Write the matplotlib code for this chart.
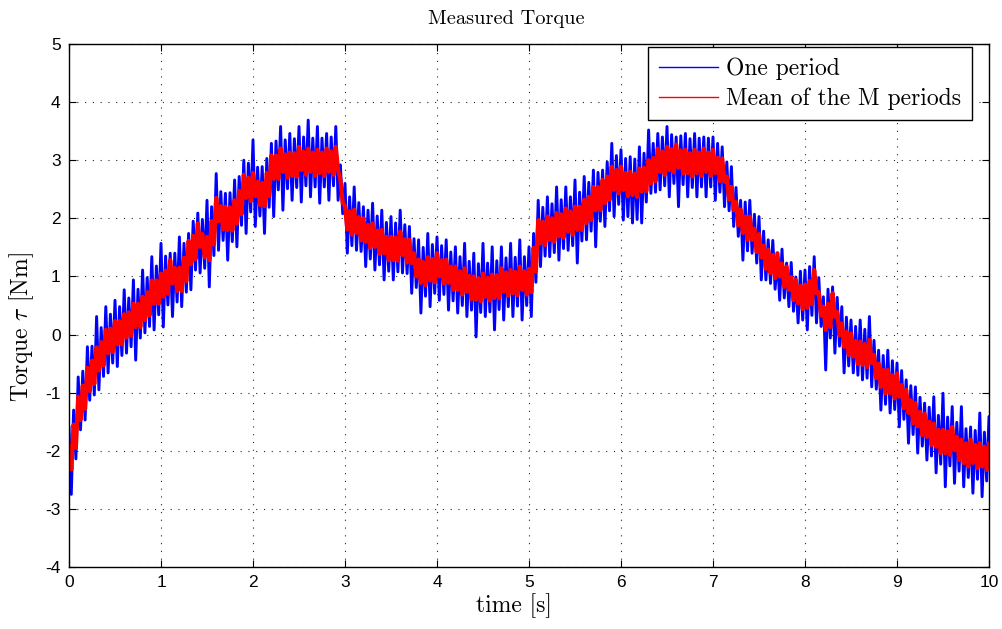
import numpy as np
import matplotlib
matplotlib.use("Agg")
import matplotlib.pyplot as plt
from matplotlib.lines import Line2D

plt.rcParams['mathtext.fontset'] = 'cm'
plt.rcParams['axes.unicode_minus'] = False

# one period (blue): upper / lower swings every 0.05 s
blue_hi = [
    -1.6, -1.30, -0.73, -0.63, -0.21, -0.20, 0.31, 0.12, 0.48, 0.35, 0.59, 0.48, 0.77, 0.63, 0.94, 0.78, 1.11, 0.98, 1.34, 1.18,
    1.57, 1.35, 1.40, 1.40, 1.68, 1.57, 1.74, 1.95, 2.09, 1.98, 2.31, 2.20, 2.77, 2.46, 2.43, 2.44, 2.66, 2.72, 3.00, 2.95,
    3.35, 2.88, 2.89, 3.03, 3.29, 3.33, 3.58, 3.35, 3.46, 3.37, 3.58, 3.40, 3.69, 3.38, 3.58, 3.38, 3.46, 3.40, 3.58, 2.92,
    2.60, 2.37, 2.54, 2.27, 2.20, 2.14, 2.26, 2.04, 2.14, 1.93, 2.03, 1.92, 2.14, 1.89, 1.86, 1.65, 1.63, 1.50, 1.74, 1.55,
    1.68, 1.53, 1.63, 1.42, 1.51, 1.34, 1.57, 1.26, 1.40, 1.22, 1.57, 1.23, 1.51, 1.27, 1.51, 1.32, 1.57, 1.33, 1.63, 1.34,
    1.51, 1.74, 2.31, 2.19, 2.37, 2.25, 2.54, 2.32, 2.54, 2.37, 2.66, 2.45, 2.72, 2.62, 2.83, 2.79, 2.83, 2.97, 3.29, 3.08,
    3.18, 3.03, 3.06, 3.02, 3.23, 3.12, 3.52, 3.29, 3.46, 3.40, 3.58, 3.44, 3.40, 3.42, 3.46, 3.37, 3.46, 3.38, 3.40, 3.38,
    3.40, 3.29, 3.23, 2.97, 2.89, 2.53, 2.31, 2.28, 2.31, 2.07, 2.03, 1.78, 1.63, 1.62, 1.34, 1.47, 1.23, 1.24, 0.99, 1.09,
    1.11, 1.17, 1.34, 0.98, 0.65, 0.78, 0.82, 0.64, 0.48, 0.30, 0.25, 0.14, 0.25, 0.09, 0.31, -0.10, -0.27, -0.36, -0.27, -0.45,
    -0.49, -0.62, -0.78, -0.88, -0.90, -1.08, -1.18, -1.25, -1.07, -1.39, -1.01, -1.42, -1.24, -1.51, -1.24, -1.62, -1.59, -1.65, -1.35, -1.68,
    -1.41]
blue_lo = [
    -2.75, -2.14, -1.64, -1.47, -1.13, -1.04, -0.95, -0.72, -0.66, -0.49, -0.55, -0.36, -0.32, -0.21, -0.44, -0.06, 0.03, 0.14, 0.08, 0.34,
    0.13, 0.51, 0.31, 0.56, 0.48, 0.73, 0.77, 1.11, 1.06, 1.14, 0.82, 1.36, 1.45, 1.62, 1.28, 1.60, 1.51, 1.88, 1.74, 2.11,
    1.86, 2.04, 1.74, 2.19, 2.03, 2.49, 2.14, 2.51, 2.31, 2.53, 2.28, 2.56, 2.37, 2.54, 2.26, 2.54, 2.31, 2.56, 2.31, 2.08,
    1.40, 1.53, 1.45, 1.43, 1.17, 1.30, 1.11, 1.20, 0.94, 1.09, 0.94, 1.08, 1.06, 1.05, 0.71, 0.81, 0.37, 0.66, 0.48, 0.71,
    0.59, 0.69, 0.42, 0.58, 0.37, 0.50, 0.31, 0.42, -0.04, 0.38, 0.31, 0.39, 0.08, 0.43, 0.25, 0.48, 0.31, 0.49, 0.25, 0.50,
    0.31, 0.90, 1.17, 1.35, 1.34, 1.41, 1.28, 1.48, 1.45, 1.53, 1.23, 1.61, 1.63, 1.78, 1.51, 1.95, 1.86, 2.13, 2.03, 2.24,
    1.97, 2.03, 1.92, 1.98, 1.92, 2.28, 2.43, 2.45, 2.49, 2.56, 2.37, 2.60, 2.20, 2.58, 2.37, 2.53, 2.37, 2.54, 2.37, 2.54,
    2.31, 2.45, 2.20, 2.13, 1.86, 1.69, 1.28, 1.44, 1.40, 1.23, 0.94, 0.94, 0.88, 0.78, 0.59, 0.63, 0.48, 0.40, 0.20, 0.25,
    0.08, 0.33, 0.20, 0.14, -0.61, -0.06, -0.32, -0.20, -0.66, -0.54, -0.66, -0.70, -0.78, -0.75, -0.90, -0.94, -1.30, -1.20, -1.35, -1.29,
    -1.59, -1.46, -1.87, -1.72, -2.04, -1.92, -2.16, -2.09, -2.38, -2.23, -2.62, -2.26, -2.56, -2.35, -2.62, -2.46, -2.73, -2.49, -2.79, -2.52,
    -2.73]

# mean of the M periods (red)
red_hi = [
    -1.92, -1.55, -1.07, -0.88, -0.57, -0.45, -0.22, -0.13, 0.08, 0.10, 0.23, 0.23, 0.35, 0.38, 0.53, 0.53, 0.65, 0.73, 0.93, 0.93,
    1.05, 1.10, 1.28, 1.15, 1.15, 1.32, 1.61, 1.70, 1.91, 1.73, 1.68, 1.95, 2.35, 2.21, 2.20, 2.19, 2.31, 2.47, 2.75, 2.70,
    2.78, 2.63, 2.61, 2.78, 3.08, 3.08, 3.20, 3.10, 3.13, 3.12, 3.23, 3.15, 3.20, 3.13, 3.18, 3.13, 3.20, 3.15, 3.23, 2.67,
    2.21, 2.12, 2.15, 2.02, 2.00, 1.89, 1.91, 1.79, 1.80, 1.68, 1.68, 1.67, 1.77, 1.64, 1.63, 1.40, 1.29, 1.25, 1.33, 1.30,
    1.40, 1.28, 1.29, 1.17, 1.17, 1.09, 1.14, 1.01, 1.00, 0.97, 1.05, 0.98, 1.03, 1.02, 1.14, 1.07, 1.11, 1.08, 1.17, 1.09,
    1.13, 1.49, 1.97, 1.94, 2.03, 2.00, 2.09, 2.07, 2.17, 2.12, 2.20, 2.20, 2.32, 2.37, 2.54, 2.54, 2.66, 2.72, 2.89, 2.83,
    2.89, 2.78, 2.80, 2.77, 2.86, 2.87, 3.00, 3.04, 3.20, 3.15, 3.23, 3.19, 3.27, 3.17, 3.18, 3.12, 3.18, 3.13, 3.20, 3.13,
    3.18, 3.04, 3.03, 2.72, 2.54, 2.28, 2.15, 2.03, 2.03, 1.82, 1.73, 1.53, 1.46, 1.37, 1.40, 1.22, 1.17, 0.99, 0.94, 0.84,
    0.86, 0.92, 1.11, 0.73, 0.48, 0.53, 0.71, 0.39, 0.19, 0.05, 0.02, -0.11, -0.12, -0.16, -0.09, -0.35, -0.50, -0.61, -0.61, -0.70,
    -0.67, -0.87, -0.95, -1.13, -1.18, -1.33, -1.36, -1.50, -1.53, -1.64, -1.64, -1.67, -1.59, -1.76, -1.81, -1.87, -1.81, -1.90, -1.87, -1.93,
    -1.87]
red_lo = [
    -2.32, -1.95, -1.47, -1.28, -0.97, -0.85, -0.62, -0.53, -0.32, -0.30, -0.17, -0.17, -0.05, -0.02, 0.13, 0.13, 0.25, 0.33, 0.53, 0.53,
    0.65, 0.70, 0.88, 0.75, 0.75, 0.92, 1.21, 1.30, 1.51, 1.33, 1.28, 1.55, 1.95, 1.81, 1.80, 1.79, 1.91, 2.07, 2.35, 2.30,
    2.38, 2.23, 2.21, 2.38, 2.68, 2.68, 2.80, 2.70, 2.73, 2.72, 2.83, 2.75, 2.80, 2.73, 2.78, 2.73, 2.80, 2.75, 2.83, 2.27,
    1.81, 1.72, 1.75, 1.62, 1.60, 1.49, 1.51, 1.39, 1.40, 1.28, 1.28, 1.27, 1.37, 1.24, 1.23, 1.00, 0.89, 0.85, 0.93, 0.90,
    1.00, 0.88, 0.89, 0.77, 0.77, 0.69, 0.74, 0.61, 0.60, 0.57, 0.65, 0.58, 0.63, 0.62, 0.74, 0.67, 0.71, 0.68, 0.77, 0.69,
    0.73, 1.09, 1.57, 1.54, 1.63, 1.60, 1.69, 1.67, 1.77, 1.72, 1.80, 1.80, 1.92, 1.97, 2.14, 2.14, 2.26, 2.32, 2.49, 2.43,
    2.49, 2.38, 2.40, 2.37, 2.46, 2.47, 2.60, 2.64, 2.80, 2.75, 2.83, 2.79, 2.87, 2.77, 2.78, 2.72, 2.78, 2.73, 2.80, 2.73,
    2.78, 2.64, 2.63, 2.32, 2.14, 1.88, 1.75, 1.63, 1.63, 1.42, 1.33, 1.13, 1.06, 0.97, 1.00, 0.82, 0.77, 0.59, 0.54, 0.44,
    0.46, 0.52, 0.71, 0.33, 0.08, 0.13, 0.31, -0.01, -0.21, -0.35, -0.38, -0.51, -0.52, -0.56, -0.49, -0.75, -0.90, -1.01, -1.01, -1.10,
    -1.07, -1.27, -1.35, -1.53, -1.58, -1.73, -1.76, -1.90, -1.93, -2.04, -2.04, -2.07, -1.99, -2.16, -2.21, -2.27, -2.21, -2.30, -2.27, -2.33,
    -2.27]

x_ticks = list(range(0, 11))
y_ticks = list(range(-4, 6))


def zigzag(hi, lo):
    # alternate the high and low samples in time order
    n = min(len(hi), len(lo))
    t = np.linspace(0, 10, n)
    dt = t[1] - t[0]
    tt = np.column_stack([t, t + dt / 2]).ravel()
    yy = np.column_stack([hi[:n], lo[:n]]).ravel()
    return tt, yy


fig = plt.figure(figsize=(10.02, 6.29), dpi=100)
ax = fig.add_axes([69 / 1002, 62 / 629, 920 / 1002, 523 / 629])

tb, yb = zigzag(blue_hi, blue_lo)
tr, yr = zigzag(red_hi, red_lo)
ax.plot(tb, yb, color=(0, 0, 1), lw=2.1)
ax.plot(tr, yr, color=(1, 0, 0), lw=3.0)

ax.set_xlim(0, 10)
ax.set_ylim(-4, 5)
ax.set_xticks(x_ticks)
ax.set_yticks(y_ticks)
ax.set_xticklabels([str(v) for v in x_ticks], fontfamily='Liberation Sans', fontsize=12.5)
ax.set_yticklabels([str(v) for v in y_ticks], fontfamily='Liberation Sans', fontsize=12.5)
ax.tick_params(direction='in', length=5, width=0.8, top=True, right=True, pad=6)
ax.grid(True, color='0.15', linestyle=(0, (1, 6)), linewidth=0.8)
for s in ax.spines.values():
    s.set_linewidth(1.0)

fig.text(506 / 1002, 1 - 19 / 629, 'Measured Torque', fontfamily='cmr10', fontsize=14.7,
         ha='center', va='center')
fig.text(514 / 1002, 1 - 606 / 629, 'time [s]', fontfamily='cmr10', fontsize=17,
         ha='center', va='center')
fig.text(22 / 1002, 1 - 327 / 629, r'Torque $\tau$ [Nm]', fontfamily='cmr10', fontsize=17,
         ha='center', va='center', rotation=90)

handles = [Line2D([], [], color=(0, 0, 1), lw=1.0), Line2D([], [], color=(1, 0, 0), lw=1.0)]
leg = ax.legend(handles, ['One period', 'Mean of the M periods'], loc='upper right',
                bbox_to_anchor=(0.9815, 0.994), borderaxespad=0, fancybox=False,
                framealpha=1, edgecolor='black', handlelength=2.5, handletextpad=0.35,
                labelspacing=0.3, borderpad=0.45, prop={'family': 'cmr10', 'size': 17})
leg.get_frame().set_linewidth(1.0)

fig.savefig('out.png', dpi=100)
